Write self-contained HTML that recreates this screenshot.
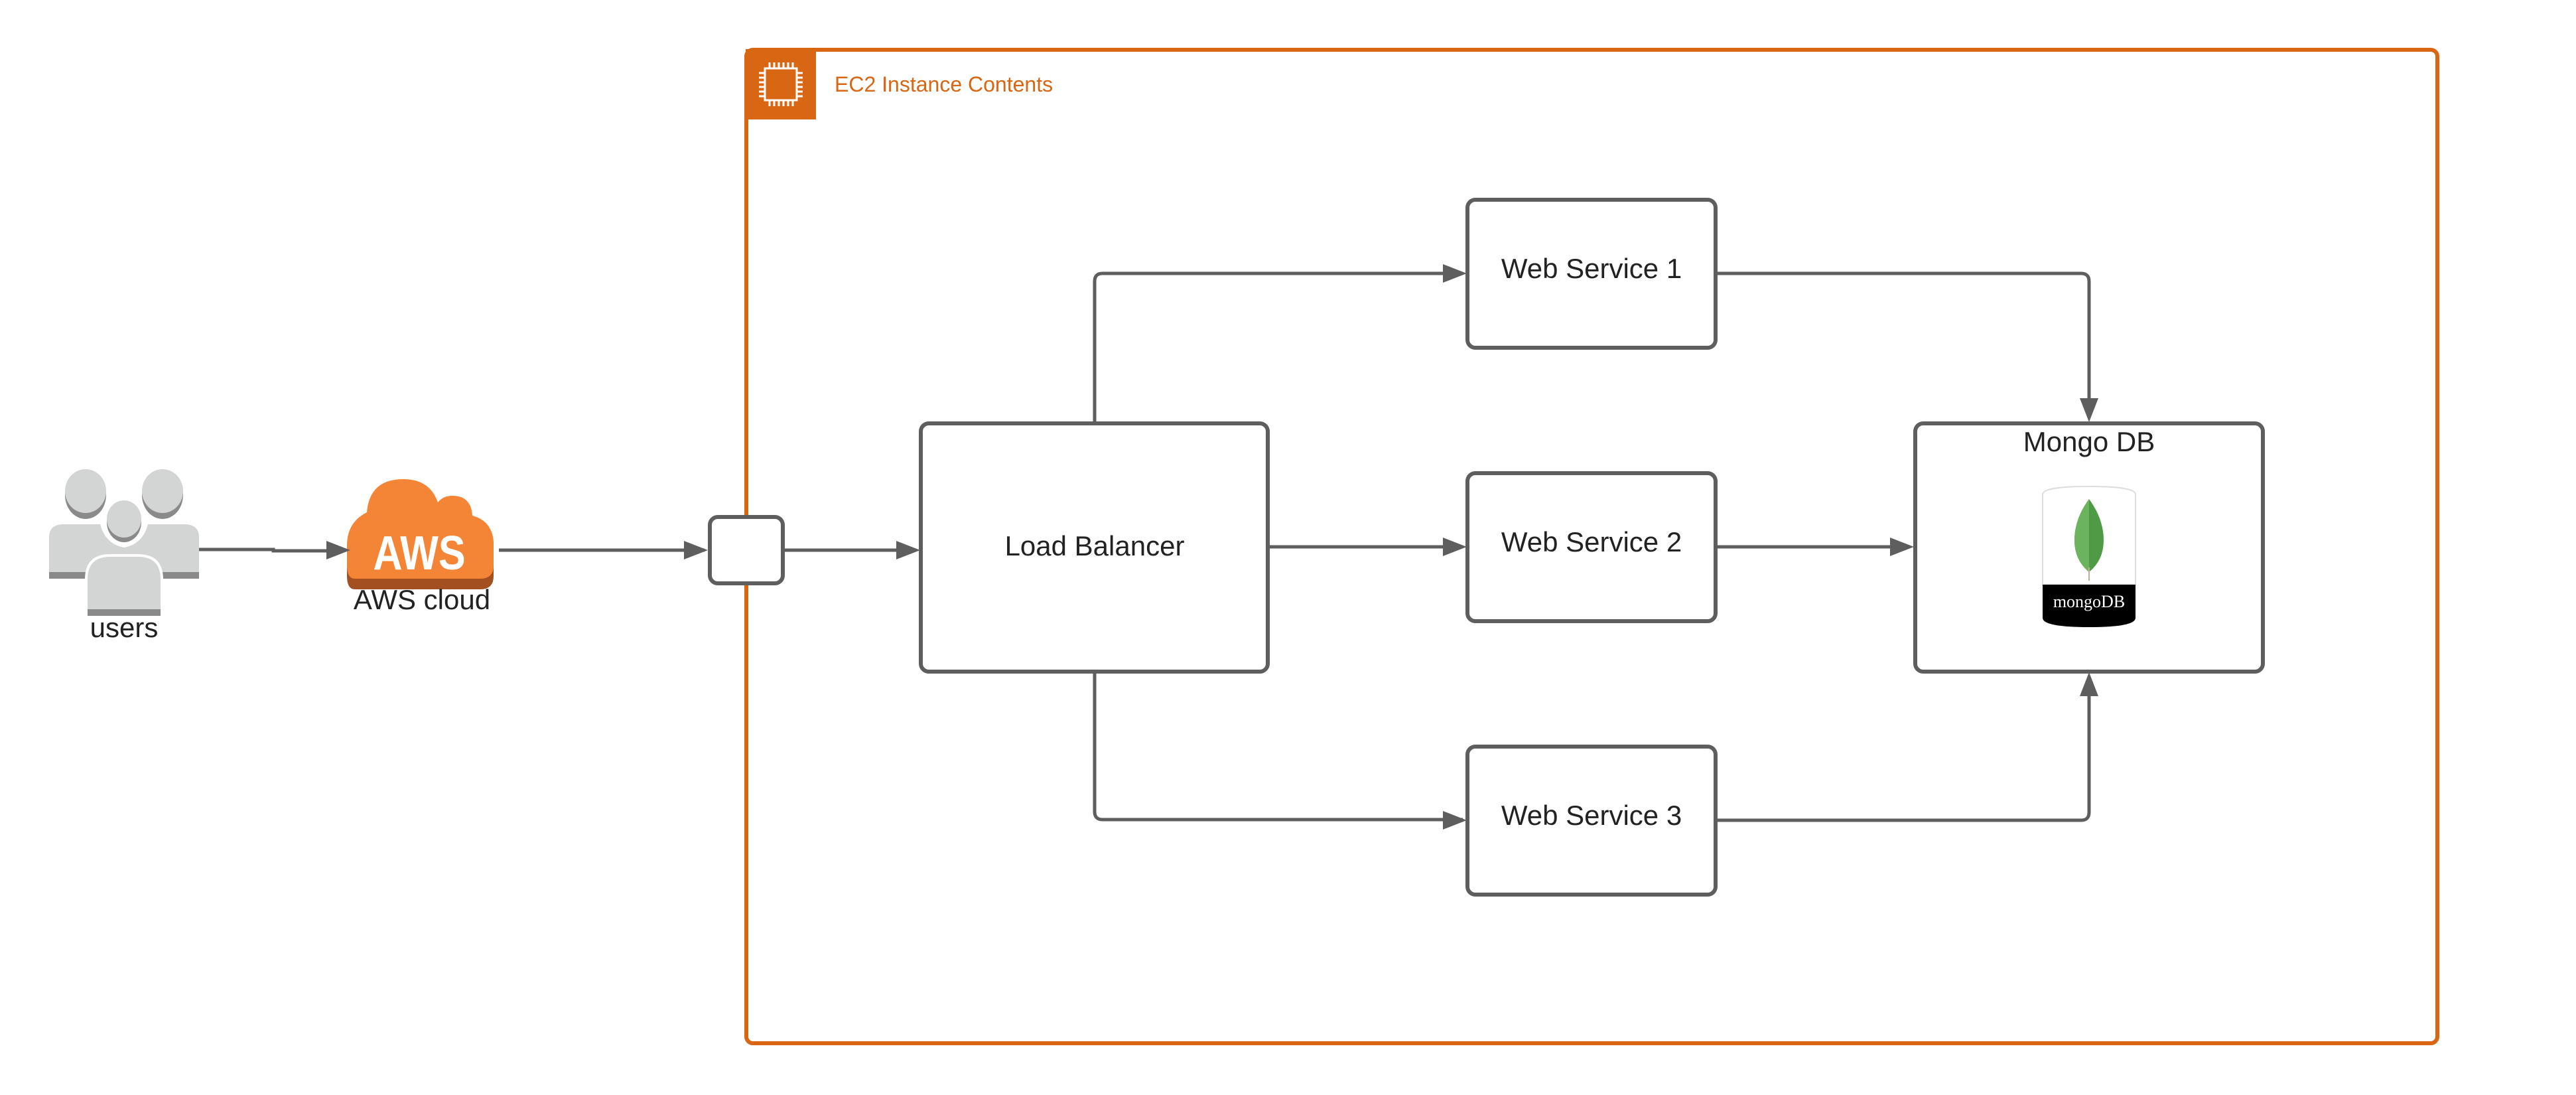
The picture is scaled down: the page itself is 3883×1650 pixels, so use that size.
<!DOCTYPE html>
<html><head><meta charset="utf-8"><style>
html,body{margin:0;padding:0;background:#fff}
svg{display:block}
text{font-family:"Liberation Sans",sans-serif}
</style></head><body>
<svg width="3883" height="1650" viewBox="0 0 3883 1650" xmlns="http://www.w3.org/2000/svg">
<defs>
<marker id="ah" markerWidth="10" markerHeight="10" refX="9" refY="5" orient="auto" markerUnits="userSpaceOnUse" viewBox="0 0 10 10">
</marker>
</defs>
<!-- EC2 container -->
<rect x="1125" y="75" width="2549" height="1497" rx="10" fill="none" stroke="#d86613" stroke-width="6"/>
<rect x="1124" y="74" width="106" height="106" fill="#d86613"/>
<g stroke="#fff" stroke-width="3" fill="none">
<rect x="1153" y="103" width="48" height="48"/>
<path d="M1160 103v-9M1167 103v-9M1174 103v-9M1181 103v-9M1188 103v-9M1195 103v-9M1160 151v9M1167 151v9M1174 151v9M1181 151v9M1188 151v9M1195 151v9M1153 110h-9M1153 117h-9M1153 124h-9M1153 131h-9M1153 138h-9M1153 145h-9M1201 110h9M1201 117h9M1201 124h9M1201 131h9M1201 138h9M1201 145h9"/>
</g>
<text x="1258" y="138" font-size="32" fill="#d86613">EC2 Instance Contents</text>

<!-- users icon -->
<g>
<ellipse cx="129" cy="746" rx="31" ry="36" fill="#8a8a8a"/>
<ellipse cx="129" cy="740" rx="31" ry="33" fill="#d3d4d4"/>
<ellipse cx="245" cy="746" rx="31" ry="36" fill="#8a8a8a"/>
<ellipse cx="245" cy="740" rx="31" ry="33" fill="#d3d4d4"/>
<path d="M74 872v-62q0-20 22-20h55q8 30 36 35v47z" fill="#d3d4d4"/>
<path d="M300 872v-62q0-20-22-20h-55q-8 30-36 35v47z" fill="#d3d4d4"/>
<rect x="74" y="862" width="226" height="10" fill="#8a8a8a"/>
<ellipse cx="187" cy="790" rx="30" ry="34" fill="#fff"/>
<ellipse cx="187" cy="787" rx="26" ry="30" fill="#8a8a8a"/>
<ellipse cx="187" cy="782" rx="26" ry="28" fill="#d3d4d4"/>
<path d="M128 928v-55q0-38 38-38h42q38 0 38 38v55z" fill="#fff"/>
<path d="M132 928v-55q0-34 34-34h42q34 0 34 34v55z" fill="#d3d4d4"/>
<rect x="132" y="918" width="110" height="10" fill="#8a8a8a"/>
<text x="187" y="960" font-size="42" fill="#222" text-anchor="middle">users</text>
</g>

<!-- AWS cloud -->
<g>
<path d="M535 880q-12 0-12-20v-30q0-35 30-50q4-50 55-50q40 0 52 35q8-10 22-10q28 0 30 30q30 8 32 40v35q0 20-20 20z" fill="#a34f1f" transform="translate(0,8)"/>
<path d="M535 872q-12 0-12-20v-30q0-35 30-50q4-50 55-50q40 0 52 35q8-10 22-10q28 0 30 30q30 8 32 40v35q0 20-20 20z" fill="#f58536"/>
<text x="632" y="858" font-size="72" font-weight="bold" fill="#fff" text-anchor="middle" transform="scale(0.85,1)" style="transform-origin:632px 0">AWS</text>
<text x="636" y="918" font-size="42" fill="#222" text-anchor="middle">AWS cloud</text>
</g>

<!-- connectors -->
<g stroke="#5e5e5e" stroke-width="5" fill="none">
<path d="M300 828h112v2h90"/>
<path d="M752 829h310"/>
<path d="M1181 829h200"/>
<path d="M1912 824h293"/>
<path d="M1650 636v-212q0-12 12-12h543"/>
<path d="M1650 1013v210q0 12 12 12h543"/>
<path d="M2587 412h550q12 0 12 12v206"/>
<path d="M2587 824h292"/>
<path d="M2587 1236h550q12 0 12-12v-205"/>
</g>
<g fill="#5e5e5e">
<path d="M528 829l-36-14v28z"/>
<path d="M1067 829l-36-14v28z"/>
<path d="M1387 829l-36-14v28z"/>
<path d="M2211 824l-36-14v28z"/>
<path d="M2211 412l-36-14v28z"/>
<path d="M2211 1236l-36-14v28z"/>
<path d="M2885 824l-36-14v28z"/>
<path d="M3149 636l-14-36h28z"/>
<path d="M3149 1013l-14 36h28z"/>
</g>

<!-- nodes -->
<g stroke="#5e5e5e" stroke-width="6" fill="#fff">
<rect x="1070" y="779" width="110" height="100" rx="12"/>
<rect x="1388" y="638" width="523" height="374" rx="12"/>
<rect x="2212" y="301" width="374" height="223" rx="12"/>
<rect x="2212" y="713" width="374" height="223" rx="12"/>
<rect x="2212" y="1125" width="374" height="223" rx="12"/>
<rect x="2887" y="638" width="524" height="374" rx="12"/>
</g>
<g font-size="42" fill="#222" text-anchor="middle">
<text x="1650" y="837">Load Balancer</text>
<text x="2399" y="419">Web Service 1</text>
<text x="2399" y="831">Web Service 2</text>
<text x="2399" y="1243">Web Service 3</text>
<text x="3149" y="680">Mongo DB</text>
</g>

<!-- mongo cylinder -->
<g>
<path d="M3079 745q0-12 70-12q70 0 70 12v136h-140z" fill="#fff" stroke="#ddd" stroke-width="2"/>
<path d="M3079 881h140v50q0 14-70 14q-70 0-70-14z" fill="#000"/>
<path d="M3149 752q-22 30-22 62q0 30 22 48q22-18 22-48q0-32-22-62z" fill="#4f9b45"/>
<path d="M3149 752q-22 30-22 62q0 30 22 48z" fill="#6cb35e"/>
<path d="M3149 855v20" stroke="#b8b09a" stroke-width="2"/>
<text x="3149" y="915" font-size="26" fill="#fff" text-anchor="middle" font-family="Liberation Serif,serif" style="font-family:'Liberation Serif',serif">mongoDB</text>
</g>
</svg>
</body></html>
